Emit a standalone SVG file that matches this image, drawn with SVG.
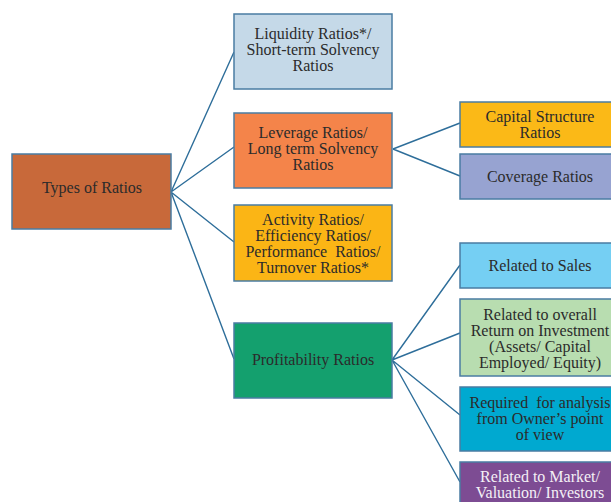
<svg xmlns="http://www.w3.org/2000/svg" width="611" height="502" viewBox="0 0 611 502">
<style>
.box{stroke:#4a7ca3;stroke-width:1.5}
.t{font-family:"Liberation Serif","Times New Roman",serif;font-size:16px;fill:#2b2b2b;text-anchor:middle;white-space:pre}
.w{fill:#f4f0f6}
.c{stroke:#2e6e9a;stroke-width:1.4;fill:none}
</style>
<rect width="611" height="502" fill="#ffffff"/>
<g id="connectors">
<path class="c" d="M171,192 L234,52 M171,192 L234,147 M171,192 L234,242 M171,192 L234,359"/>
<path class="c" d="M393,149 L460,123 M393,149 L460,176"/>
<path class="c" d="M392,360 L460,265 M392,360 L460,333 M392,360 L460,415 M392,360 L460,482"/>
</g>
<g id="types">
<rect class="box" x="12" y="154" width="159" height="75" fill="#c8693a"/>
<text class="t" x="92" y="193">Types of Ratios</text>
</g>
<g id="liquidity">
<rect class="box" x="234" y="14" width="158" height="75" fill="#c5d9e8"/>
<text class="t" x="313" y="39">Liquidity Ratios*/</text>
<text class="t" x="313" y="55">Short-term Solvency</text>
<text class="t" x="313" y="71">Ratios</text>
</g>
<g id="leverage">
<rect class="box" x="234" y="113" width="158" height="75" fill="#f4844a"/>
<text class="t" x="313" y="138">Leverage Ratios/</text>
<text class="t" x="313" y="154">Long term Solvency</text>
<text class="t" x="313" y="170">Ratios</text>
</g>
<g id="activity">
<rect class="box" x="234" y="205" width="158" height="76" fill="#fbb515"/>
<text class="t" x="313" y="225">Activity Ratios/</text>
<text class="t" x="313" y="241">Efficiency Ratios/</text>
<text class="t" x="313" y="257" xml:space="preserve">Performance  Ratios/</text>
<text class="t" x="313" y="273">Turnover Ratios*</text>
</g>
<g id="profitability">
<rect class="box" x="234" y="323" width="158" height="75" fill="#14a06e"/>
<text class="t" x="313" y="365">Profitability Ratios</text>
</g>
<g id="capital">
<rect class="box" x="460" y="102" width="160" height="45" fill="#fbb917"/>
<text class="t" x="540" y="122">Capital Structure</text>
<text class="t" x="540" y="138">Ratios</text>
</g>
<g id="coverage">
<rect class="box" x="460" y="154" width="160" height="45" fill="#97a3d1"/>
<text class="t" x="540" y="182">Coverage Ratios</text>
</g>
<g id="sales">
<rect class="box" x="460" y="243" width="160" height="45" fill="#75cff3"/>
<text class="t" x="540" y="271">Related to Sales</text>
</g>
<g id="roi">
<rect class="box" x="460" y="299" width="160" height="77" fill="#b8ddb0"/>
<text class="t" x="540" y="320">Related to overall</text>
<text class="t" x="540" y="336">Return on Investment</text>
<text class="t" x="540" y="352">(Assets/ Capital</text>
<text class="t" x="540" y="368">Employed/ Equity)</text>
</g>
<g id="owner">
<rect class="box" x="460" y="387" width="160" height="64" fill="#00a9d0"/>
<text class="t" x="540" y="408" xml:space="preserve">Required  for analysis</text>
<text class="t" x="540" y="424">from Owner’s point</text>
<text class="t" x="540" y="440">of view</text>
</g>
<g id="market">
<rect class="box" x="460" y="462" width="160" height="50" fill="#7d4c93"/>
<text class="t w" x="540" y="482">Related to Market/</text>
<text class="t w" x="540" y="498">Valuation/ Investors</text>
</g>
</svg>
